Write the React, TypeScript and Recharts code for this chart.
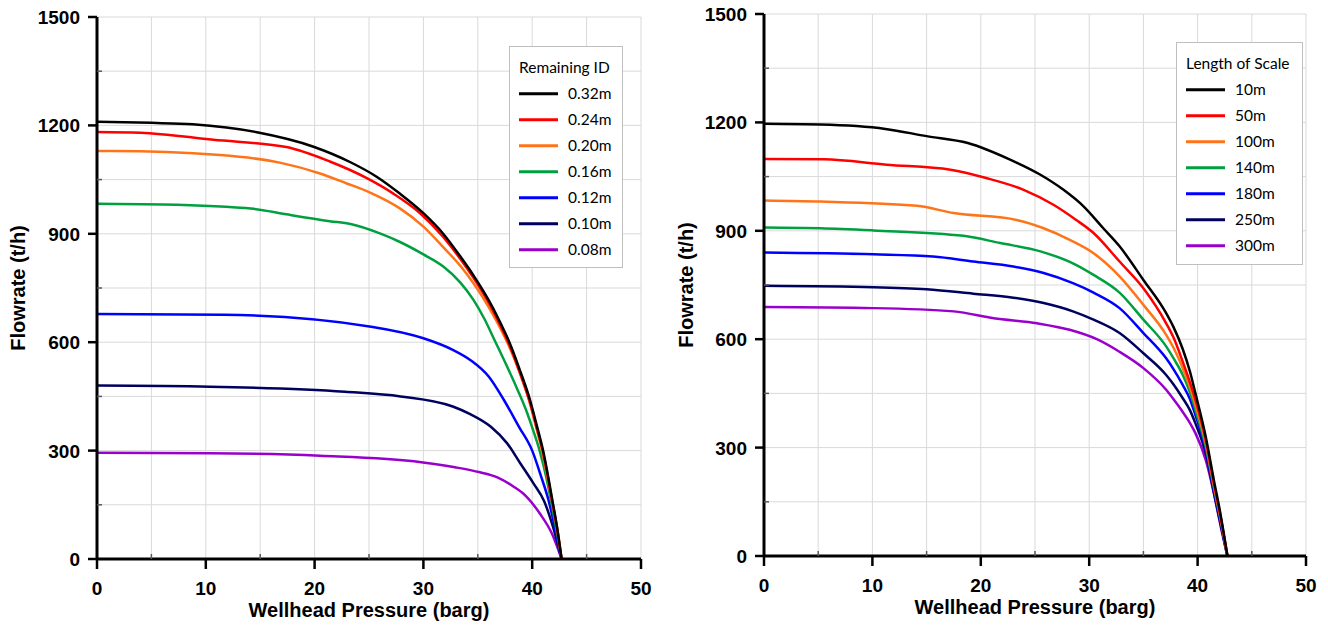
import React from 'react';
import { LineChart, Line, XAxis, YAxis, CartesianGrid, Label } from 'recharts';

type Pt = [number, number];

// left panel: flowrate (t/h) vs wellhead pressure (barg), by remaining ID
const id032: Pt[] = [[0, 1210], [5, 1207], [8.8, 1203], [14.7, 1181], [19.9, 1141], [23.3, 1098], [25.7, 1058], [27.8, 1012], [30, 957], [31.8, 901], [33.4, 837], [34.6, 785], [35.5, 742], [36.3, 700], [37.1, 652], [37.9, 600], [38.9, 520], [39.8, 440], [40.4, 372], [41, 300], [41.85, 163], [42.3, 85], [42.7, 0]];
const id024: Pt[] = [[0, 1182], [4, 1180], [10.7, 1160], [17.4, 1140], [21.4, 1100], [24.8, 1054], [27.2, 1012], [29.7, 957], [31.8, 892], [33.4, 830], [34.6, 778], [35.5, 735], [36.3, 693], [37.1, 645], [37.9, 593], [38.9, 513], [39.8, 433], [40.4, 365], [41, 295], [41.85, 158], [42.3, 82], [42.7, 0]];
const id020: Pt[] = [[0, 1129], [1.5, 1129], [11.3, 1118], [16.8, 1097], [20.5, 1067], [22.9, 1040], [25.1, 1014], [27.8, 971], [30, 920], [31.8, 864], [33.7, 800], [34.6, 763], [35.5, 722], [36.6, 665], [37.7, 600], [38.8, 520], [39.7, 440], [40.3, 372], [40.9, 300], [41.8, 163], [42.3, 82], [42.7, 0]];
const id016: Pt[] = [[0, 983], [6, 981], [14.4, 969], [17.4, 954], [21.4, 935], [23.3, 927], [26, 901], [27.8, 878], [30, 843], [31.8, 810], [33.4, 765], [34.6, 717], [35.6, 665], [36.6, 602], [37.7, 532], [38.6, 472], [39.4, 415], [40.1, 355], [40.7, 298], [41.3, 225], [41.8, 150], [42.3, 70], [42.7, 0]];
const id012: Pt[] = [[0, 678], [11.6, 676], [25.2, 643], [30, 611], [32.7, 579], [34.3, 551], [36, 505], [37.4, 440], [38.8, 365], [40, 300], [40.8, 230], [41.5, 163], [42.1, 85], [42.7, 0]];
const id010: Pt[] = [[0, 480], [10.4, 477], [22.8, 463], [27.9, 450], [32.7, 422], [34.3, 401], [36.2, 366], [37.7, 320], [38.9, 265], [40.1, 210], [41.1, 160], [41.9, 90], [42.7, 0]];
const id008: Pt[] = [[0, 294], [10.4, 293], [20.5, 286], [29.8, 268], [32.9, 254], [35.2, 240], [36.8, 226], [38.3, 200], [39.4, 175], [40.7, 126], [41.8, 71], [42.7, 0]];

// right panel: by length of scale
const len10: Pt[] = [[0, 1196], [5.2, 1194], [11.2, 1182], [15, 1162], [18.8, 1143], [22.7, 1097], [25.5, 1055], [27.6, 1014], [29.5, 967], [31.3, 907], [32.8, 857], [35, 764], [37.1, 672], [37.8, 632], [38.6, 575], [39.3, 510], [39.8, 450], [40.75, 330], [41.5, 210], [42.1, 118], [42.75, 0]];
const len50: Pt[] = [[0, 1099], [5.5, 1098], [11.3, 1083], [17.2, 1069], [20.5, 1046], [23.9, 1014], [26.7, 972], [28.8, 930], [30.4, 894], [32.8, 815], [35, 741], [37.1, 644], [37.8, 603], [38.6, 540], [39.3, 480], [39.8, 432], [40.75, 321], [41.5, 201], [42.1, 112], [42.75, 0]];
const len100: Pt[] = [[0, 984], [5.2, 981], [14.1, 969], [17.5, 949], [23.3, 930], [25.8, 907], [28.2, 875], [30.4, 838], [32.8, 774], [35, 695], [37.1, 612], [37.8, 575], [38.6, 522], [39.3, 466], [39.8, 418], [40.75, 312], [41.5, 195], [42.1, 108], [42.75, 0]];
const len140: Pt[] = [[0, 909], [5.2, 907], [10.1, 901], [18.4, 886], [21.8, 866], [25.5, 843], [28.5, 810], [30.4, 778], [32.8, 729], [35, 654], [37.1, 580], [37.8, 546], [38.6, 503], [39.3, 452], [39.8, 404], [40.75, 303], [41.5, 190], [42.1, 104], [42.75, 0]];
const len180: Pt[] = [[0, 840], [10.1, 835], [15.6, 829], [19.3, 815], [23, 801], [25.8, 783], [28.5, 755], [30.4, 729], [32.8, 686], [35, 617], [37.1, 547], [37.8, 516], [38.6, 475], [39.3, 434], [39.8, 390], [40.75, 294], [41.5, 182], [42.1, 98], [42.75, 0]];
const len250: Pt[] = [[0, 748], [10.1, 744], [15, 738], [19.3, 726], [23, 715], [25.8, 700], [28.5, 677], [30.4, 654], [32.8, 617], [35, 561], [37.1, 501], [37.8, 474], [38.6, 438], [39.3, 403], [39.8, 367], [40.75, 284], [41.5, 176], [42.1, 92], [42.75, 0]];
const len300: Pt[] = [[0, 689], [10.1, 686], [17.5, 677], [21.2, 658], [25.2, 644], [28.2, 626], [30.7, 600], [32.75, 566], [35, 520], [37.1, 460], [37.8, 433], [38.6, 400], [39.3, 368], [39.8, 340], [40.75, 266], [41.5, 174], [42.1, 86], [42.75, 0]];

const idNames = ['0.32m', '0.24m', '0.20m', '0.16m', '0.12m', '0.10m', '0.08m'];
const lengthNames = ['10m', '50m', '100m', '140m', '180m', '250m', '300m'];
const colors = ['#000000', '#ff0000', '#ff7418', '#00a040', '#0000ff', '#00005e', '#9900cc'];

const pressureTicks = [0, 5, 10, 15, 20, 25, 30, 35, 40, 45, 50];
const flowTicks = [0, 150, 300, 450, 600, 750, 900, 1050, 1200, 1350, 1500];

const idSeries = [id032, id024, id020, id016, id012, id010, id008];
const lengthSeries = [len10, len50, len100, len140, len180, len250, len300];

const axisFont = '"Liberation Sans", Arial, sans-serif';

const toPoints = (pts: Pt[]) => pts.map(([p, q]) => ({ p, q }));

const XTick = (props: any) => {
  const { x, y, payload } = props;
  const v = payload.value as number;
  if (v % 10 !== 0) {
    return <line x1={x} y1={y - 5} x2={x} y2={y} stroke="#595959" strokeWidth={1.5} />;
  }
  return (
    <g>
      <line x1={x} y1={y} x2={x} y2={y + 10} stroke="#000" strokeWidth={2.5} />
      <text x={x} y={y + 36} textAnchor="middle" fontFamily={axisFont} fontWeight="bold" fontSize={19} fill="#000">
        {v}
      </text>
    </g>
  );
};

const YTick = (props: any) => {
  const { x, y, payload } = props;
  const v = payload.value as number;
  if (v % 300 !== 0) {
    return <line x1={x} y1={y} x2={x + 5} y2={y} stroke="#595959" strokeWidth={1.5} />;
  }
  return (
    <g>
      <line x1={x - 9} y1={y} x2={x} y2={y} stroke="#000" strokeWidth={2.5} />
      <text x={x - 17} y={y + 7} textAnchor="end" fontFamily={axisFont} fontWeight="bold" fontSize={19} fill="#000">
        {v}
      </text>
    </g>
  );
};

interface PanelProps {
  series: Pt[][];
  left: number;
  top: number;
  right: number;
  yAxisWidth: number;
  xAxisHeight: number;
  yTitleX: number;
}

const Panel = ({ series, left, top, right, yAxisWidth, xAxisHeight, yTitleX }: PanelProps) => (
  <div style={{ position: 'absolute', left, top: 0 }}>
    <LineChart width={664} height={628} margin={{ top, right, bottom: 0, left: 0 }}>
      <CartesianGrid stroke="#d9d9d9" strokeWidth={1} />
      <XAxis
        dataKey="p"
        type="number"
        domain={[0, 50]}
        ticks={pressureTicks}
        interval={0}
        height={xAxisHeight}
        tickSize={0}
        tickMargin={0}
        tickLine={false}
        tick={XTick}
        axisLine={{ stroke: '#000', strokeWidth: 3 }}
      >
        <Label
          content={(p: any) => {
            const vb = p.viewBox;
            return (
              <text x={vb.x + vb.width / 2} y={vb.y + 58} textAnchor="middle" fontFamily={axisFont} fontWeight="bold" fontSize={20} fill="#000">
                Wellhead Pressure (barg)
              </text>
            );
          }}
        />
      </XAxis>
      <YAxis
        type="number"
        domain={[0, 1500]}
        ticks={flowTicks}
        interval={0}
        width={yAxisWidth}
        tickSize={0}
        tickMargin={0}
        tickLine={false}
        tick={YTick}
        axisLine={{ stroke: '#000', strokeWidth: 3 }}
      >
        <Label
          content={(p: any) => {
            const vb = p.viewBox;
            const cx = vb.x + yTitleX;
            const cy = vb.y + vb.height / 2;
            return (
              <text x={cx} y={cy} transform={`rotate(-90 ${cx} ${cy})`} textAnchor="middle" dominantBaseline="central" fontFamily={axisFont} fontWeight="bold" fontSize={20} fill="#000">
                Flowrate (t/h)
              </text>
            );
          }}
        />
      </YAxis>
      {series
        .map((s, i) => (
          <Line
            key={i}
            data={toPoints(s)}
            dataKey="q"
            type="monotone"
            stroke={colors[i]}
            strokeWidth={2.5}
            dot={false}
            activeDot={false}
            isAnimationActive={false}
          />
        ))
        .reverse()}
    </LineChart>
  </div>
);

interface LegendProps {
  title: string;
  names: string[];
  left: number;
  top: number;
  width: number;
  height: number;
}

const LegendBox = ({ title, names, left, top, width, height }: LegendProps) => (
  <div
    style={{
      position: 'absolute',
      left,
      top,
      width,
      height,
      boxSizing: 'border-box',
      border: '1px solid #bfbfbf',
      background: '#fff',
      fontFamily: 'Lato, "Open Sans", sans-serif',
      fontSize: 15.5,
      color: '#000',
    }}
  >
    <div style={{ position: 'absolute', left: 9, top: 21, transform: 'translateY(-50%)', whiteSpace: 'nowrap', lineHeight: 1 }}>{title}</div>
    {names.map((n, i) => (
      <div
        key={n}
        style={{ position: 'absolute', left: 9, top: 46.5 + i * 26, transform: 'translateY(-50%)', display: 'flex', alignItems: 'center', whiteSpace: 'nowrap' }}
      >
        <div style={{ width: 39, height: 3, background: colors[i] }} />
        <span style={{ marginLeft: 10, lineHeight: 1 }}>{n}</span>
      </div>
    ))}
  </div>
);

export default function App() {
  return (
    <div style={{ position: 'absolute', left: 0, top: 0, width: 1328, height: 628, background: '#fff', overflow: 'hidden' }}>
      <Panel series={idSeries} left={0} top={17} right={23} yAxisWidth={97} xAxisHeight={69} yTitleX={18} />
      <Panel series={lengthSeries} left={664} top={14} right={22} yAxisWidth={100} xAxisHeight={72} yTitleX={22} />
      <LegendBox title="Remaining ID" names={idNames} left={509} top={46} width={114} height={222} />
      <LegendBox title="Length of Scale" names={lengthNames} left={1176} top={42} width={127} height={223} />
    </div>
  );
}
